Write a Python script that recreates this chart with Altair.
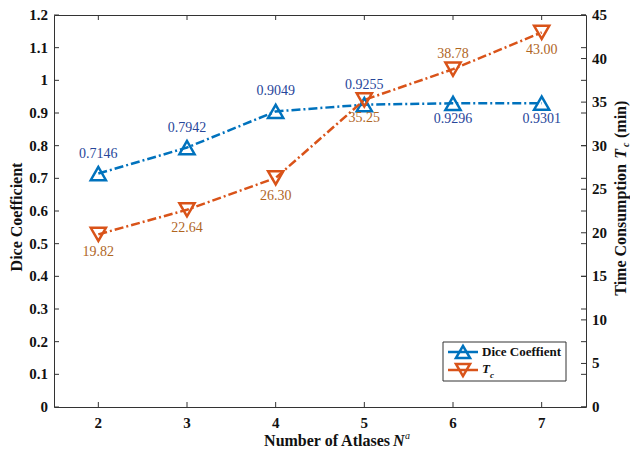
import altair as alt
import pandas as pd

# ---------------- data ----------------
atlases = [2, 3, 4, 5, 6, 7]
dice = [0.7146, 0.7942, 0.9049, 0.9255, 0.9296, 0.9301]
tc = [19.82, 22.64, 26.30, 35.25, 38.78, 43.00]
dice_labels = ["0.7146", "0.7942", "0.9049", "0.9255", "0.9296", "0.9301"]
tc_labels = ["19.82", "22.64", "26.30", "35.25", "38.78", "43.00"]
dice_place = ["above", "above", "above", "above", "below", "below"]
tc_place = ["below", "below", "below", "below", "above", "below"]

x_ticks = [2, 3, 4, 5, 6, 7]
x_tick_labels = ["2", "3", "4", "5", "6", "7"]
left_ticks = [0, 0.1, 0.2, 0.3, 0.4, 0.5, 0.6, 0.7, 0.8, 0.9, 1.0, 1.1, 1.2]
left_tick_labels = ["0", "0.1", "0.2", "0.3", "0.4", "0.5", "0.6", "0.7", "0.8", "0.9",
                    "1", "1.1", "1.2"]
right_ticks = [0, 5, 10, 15, 20, 25, 30, 35, 40, 45]
right_tick_labels = ["0", "5", "10", "15", "20", "25", "30", "35", "40", "45"]

BLUE = "#0072BD"
ORANGE = "#D95319"
BLUE_TXT = "#27469a"
ORANGE_TXT = "#b0661f"
INK = "#111111"
FONT = "Liberation Serif"
W, H = 532, 392

df = pd.DataFrame({"N": atlases, "dice": dice, "tc": tc,
                   "dlab": dice_labels, "tlab": tc_labels,
                   "dpos": dice_place, "tpos": tc_place})

x_scale = alt.Scale(domain=[1.5, 7.5], nice=False)
yl_scale = alt.Scale(domain=[0, 1.2], nice=False)
yr_scale = alt.Scale(domain=[0, 45], nice=False)

X = alt.X("N:Q", scale=x_scale, axis=None)
YL = alt.Y("dice:Q", scale=yl_scale, axis=None)
YR = alt.Y("tc:Q", scale=yr_scale, axis=None)
dash = [9, 3, 2, 3]

# ---- left (Dice) layers ----
dice_line = alt.Chart(df).mark_line(color=BLUE, strokeWidth=2.5, strokeDash=dash).encode(x=X, y=YL)
dice_pts = alt.Chart(df).mark_point(shape="triangle-up", size=230, filled=False, strokeWidth=2.5,
                                    color=BLUE, opacity=1).encode(x=X, y=YL)
dice_txt_up = alt.Chart(df).transform_filter(alt.datum.dpos == "above").mark_text(
    font=FONT, fontSize=14, color=BLUE_TXT, dy=-20).encode(x=X, y=YL, text="dlab:N")
dice_txt_dn = alt.Chart(df).transform_filter(alt.datum.dpos == "below").mark_text(
    font=FONT, fontSize=14, color=BLUE_TXT, dy=16).encode(x=X, y=YL, text="dlab:N")

lt = pd.DataFrame({"v": left_ticks, "lab": left_tick_labels})
YLt = alt.Y("v:Q", scale=yl_scale, axis=None)
left_tick_l = alt.Chart(lt).mark_rule(color="#333", strokeWidth=1).encode(
    x=alt.value(0), x2=alt.value(5), y=YLt)
left_tick_r = alt.Chart(lt).mark_rule(color="#333", strokeWidth=1).encode(
    x=alt.value(W - 5), x2=alt.value(W), y=YLt)
left_labels = alt.Chart(lt).mark_text(font=FONT, fontSize=15, fontWeight="bold", color=INK,
                                      align="right", baseline="middle").encode(
    x=alt.value(-6), y=YLt, text="lab:N")

xt = pd.DataFrame({"v": x_ticks, "lab": x_tick_labels})
Xt = alt.X("v:Q", scale=x_scale, axis=None)
x_tick_b = alt.Chart(xt).mark_rule(color="#333", strokeWidth=1).encode(
    x=Xt, y=alt.value(H - 5), y2=alt.value(H))
x_tick_t = alt.Chart(xt).mark_rule(color="#333", strokeWidth=1).encode(
    x=Xt, y=alt.value(0), y2=alt.value(5))
x_labels = alt.Chart(xt).mark_text(font=FONT, fontSize=15, fontWeight="bold", color=INK,
                                   align="center", baseline="middle").encode(
    x=Xt, y=alt.value(H + 16), text="lab:N")

left = alt.layer(dice_line, dice_pts, dice_txt_up, dice_txt_dn,
                 left_tick_l, left_tick_r, left_labels, x_tick_b, x_tick_t, x_labels)

# ---- right (Tc) layers ----
tc_line = alt.Chart(df).mark_line(color=ORANGE, strokeWidth=2.5, strokeDash=dash).encode(x=X, y=YR)
tc_pts = alt.Chart(df).mark_point(shape="triangle-down", size=230, filled=False, strokeWidth=2.5,
                                  color=ORANGE, opacity=1).encode(x=X, y=YR)
tc_txt_up = alt.Chart(df).transform_filter(alt.datum.tpos == "above").mark_text(
    font=FONT, fontSize=14, color=ORANGE_TXT, dy=-15).encode(x=X, y=YR, text="tlab:N")
tc_txt_dn = alt.Chart(df).transform_filter(alt.datum.tpos == "below").mark_text(
    font=FONT, fontSize=14, color=ORANGE_TXT, dy=18).encode(x=X, y=YR, text="tlab:N")

rt = pd.DataFrame({"v": right_ticks, "lab": right_tick_labels})
YRt = alt.Y("v:Q", scale=yr_scale, axis=None)
right_tick = alt.Chart(rt).mark_rule(color="#333", strokeWidth=1).encode(
    x=alt.value(W - 5), x2=alt.value(W), y=YRt)
right_labels = alt.Chart(rt).mark_text(font=FONT, fontSize=15, fontWeight="bold", color=INK,
                                       align="left", baseline="middle").encode(
    x=alt.value(W + 6), y=YRt, text="lab:N")

right = alt.layer(tc_line, tc_pts, tc_txt_up, tc_txt_dn, right_tick, right_labels)

# ---- axis titles & legend (decorations) ----
one = pd.DataFrame({"a": [0]})


def txt(s, x, y, size=16, style="normal", align="center", angle=0, dy=0, weight="bold"):
    kw = dict(font=FONT, fontSize=size, fontWeight=weight, fontStyle=style, align=align,
              baseline="middle", color=INK, text=s, dy=dy)
    if angle:
        kw["angle"] = angle
    return alt.Chart(one).mark_text(**kw).encode(x=alt.value(x), y=alt.value(y))


TY = 134  # junction of "T" and subscript on the right title
titles = [
    # left axis title
    txt("Dice Coefficient", -37, H / 2 + 6, angle=270),
    # bottom axis title
    txt("Number of Atlases", 336, H + 34, align="right"),
    txt("N", 339, H + 34, style="italic", align="left"),
    txt("a", 351, H + 34, size=10, style="italic", align="left", dy=-5, weight="normal"),
    # right axis title (rotated, reading upward)
    txt("Time Consumption", W + 35, TY + 15, align="right", angle=270),
    txt("T", W + 35, TY, style="italic", align="right", angle=270),
    txt("c", W + 40, TY - 2, size=10, style="italic", align="left", angle=270),
    txt("(min)", W + 35, TY - 11, align="left", angle=270),
]

LX0, LX1 = W - 143, W - 20
LY0, LY1 = H - 65, H - 26
legend_box = alt.Chart(one).mark_rect(fill="white", stroke="#333", strokeWidth=1).encode(
    x=alt.value(LX0), x2=alt.value(LX1), y=alt.value(LY0), y2=alt.value(LY1))
leg_items = []
for yy, col, shp in [(LY0 + 10, BLUE, "triangle-up"), (LY0 + 28, ORANGE, "triangle-down")]:
    leg_items.append(alt.Chart(one).mark_rule(color=col, strokeWidth=2.5).encode(
        x=alt.value(LX0 + 5), x2=alt.value(LX0 + 35), y=alt.value(yy)))
    leg_items.append(alt.Chart(one).mark_point(shape=shp, size=200, filled=False,
                                               strokeWidth=2.5, color=col, opacity=1).encode(
        x=alt.value(LX0 + 20), y=alt.value(yy)))
leg_text = [
    txt("Dice Coeffient", LX0 + 39, LY0 + 10, size=13, align="left"),
    txt("T", LX0 + 39, LY0 + 27, size=13, style="italic", align="left"),
    txt("c", LX0 + 47, LY0 + 33, size=9, style="italic", align="left"),
]
deco = alt.layer(*titles, legend_box, *leg_items, *leg_text)

chart = alt.layer(left, right, deco).resolve_scale(y="independent").properties(
    width=W, height=H,
    autosize=alt.AutoSizeParams(type="none"),
    padding={"left": 46, "top": 7, "right": 44, "bottom": 41},
    background="white",
).configure_view(stroke="#333", strokeWidth=1)

chart.save("out.html", embed_options={"renderer": "svg", "actions": False})
